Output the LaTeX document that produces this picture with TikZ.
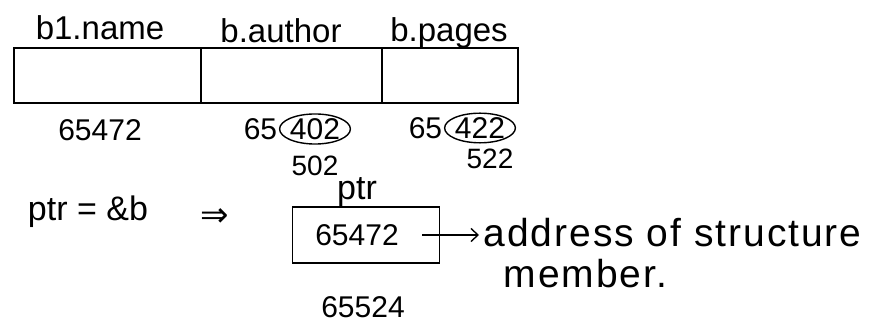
\documentclass[tikz,border=0pt]{standalone}
\usepackage{fontspec}
\setmainfont{Liberation Sans}
\newfontfamily\symbolfont{DejaVu Sans}
\usetikzlibrary{shapes.geometric,arrows.meta}
\begin{document}
\begin{tikzpicture}[x=1pt,y=-1pt,line width=1.5pt,
  cell/.style={draw,minimum height=55pt,inner sep=0pt},
  member/.style={font=\fontsize{33}{38}\selectfont,anchor=base},
  addr/.style={font=\fontsize{30}{34}\selectfont,inner sep=1pt},
  ring/.style={draw,ellipse,line width=1.4pt,inner sep=0pt,minimum width=66pt,minimum height=28pt,font=\fontsize{30}{34}\selectfont},
  fix/.style={font=\fontsize{28}{32}\selectfont},
  big/.style={font=\fontsize{34}{40}\selectfont},
  note/.style={font=\fontsize{39}{44}\selectfont\addfontfeatures{LetterSpace=5},anchor=base west,inner sep=0pt}]
\useasboundingbox (0,0) rectangle (891,336);

% the structure variable b with its three members
\node[cell,minimum width=187pt] (cname)   at (107.5,75.5) {};
\node[cell,minimum width=181pt] (cauthor) at (291.5,75.5) {};
\node[cell,minimum width=136pt] (cpages)  at (450,75.5) {};

\node[member] (lname)   at (100,40) {b1.name};
\node[member] (lauthor) at (281,43) {b.author};
\node[member] (lpages)  at (449,42) {b.pages};

% start addresses of the members
\node[addr] (aname) at (100,130) {65472};
\node[ring] (aauthor) at (315,129) {402};
\node[addr,anchor=east] (aauthorhi) at (aauthor.west) {65};
\node[ring] (apages) at (480,128) {422};
\node[addr,anchor=east] (apageshi) at (apages.west) {65};
\node[fix] (cauthorfix) at (315,166) {502};
\node[fix] (cpagesfix)  at (490,159) {522};

% pointer to the structure
\node[big] (assign) at (88,212) {ptr = \&b};
\node[font=\symbolfont\fontsize{34}{40}\selectfont] (implies) at (215,218) {⇒};
\node[draw,minimum width=147pt,minimum height=56pt,inner sep=0pt] (pbox) at (366,235) {};
\node[addr] (pval) at (357,235) {65472};
\node[big,anchor=base] (plabel) at (357,200) {ptr};
\node[addr] (paddr) at (363,307) {65524};

\node[note] (desc) at (483,247) {address of structure};
\node[note] (desc2) at (503,288) {member.};

\draw[-{Straight Barb[length=7pt,width=13pt]},line width=1.4pt,shorten >=4pt]
  ([xshift=-18pt]pbox.east) -- (pbox.east -| desc.west);
\end{tikzpicture}
\end{document}
